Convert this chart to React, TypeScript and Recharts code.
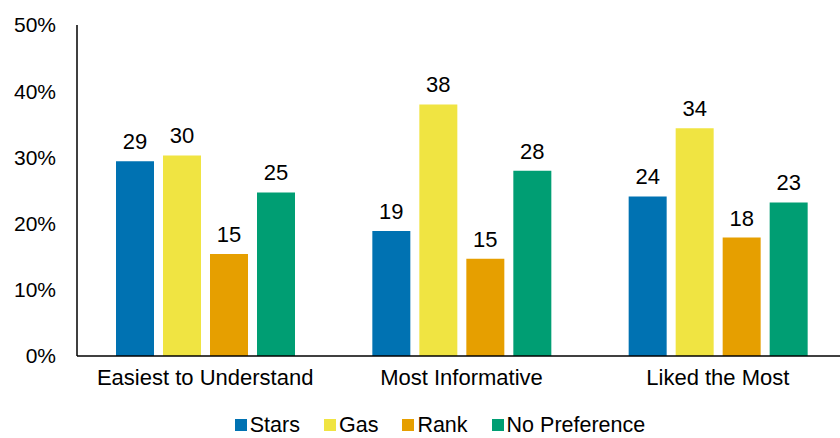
import React from 'react'
import { BarChart, Bar, XAxis, YAxis, Legend, LabelList } from 'recharts'

const categories = ['Easiest to Understand', 'Most Informative', 'Liked the Most']
const stars = [29.4, 18.9, 24.1]
const gas = [30.3, 38.0, 34.4]
const rank = [15.4, 14.7, 17.9]
const noPreference = [24.7, 28.0, 23.2]
const yTicks = [0, 10, 20, 30, 40, 50]

const series = [
    { key: 'stars', name: 'Stars', color: '#0072B2' },
    { key: 'gas', name: 'Gas', color: '#F0E442' },
    { key: 'rank', name: 'Rank', color: '#E69F00' },
    { key: 'noPreference', name: 'No Preference', color: '#009E73' },
]

const data = categories.map((name, i) => ({
    name,
    stars: stars[i],
    gas: gas[i],
    rank: rank[i],
    noPreference: noPreference[i],
}))

const font = "'Liberation Sans', Arial, sans-serif"

// legend kept in series order (recharts sorts by name otherwise)
const LegendBox = () => (
    <div style={{ display: 'flex', justifyContent: 'center', alignItems: 'center', height: 26, paddingLeft: 34, fontFamily: font, fontSize: 21.5, lineHeight: '25px', color: '#000' }}>
        {series.map((s, i) => (
            <div key={s.key} style={{ display: 'flex', alignItems: 'center', marginLeft: i === 0 ? 0 : 24 }}>
                <span style={{ display: 'inline-block', width: 12, height: 12, background: s.color, marginRight: 3 }} />
                <span>{s.name}</span>
            </div>
        ))}
    </div>
)

const App = () => {
    return (
        <div style={{ position: 'absolute', left: 0, top: 0, width: 840, height: 438, overflow: 'hidden', background: '#fff', fontFamily: font }}>
            <BarChart
                width={846}
                height={438}
                data={data}
                margin={{ top: 25, right: 0, left: 0, bottom: 0 }}
                barSize={38}
                barGap={9}
            >
                <XAxis
                    dataKey="name"
                    height={56}
                    tickSize={0}
                    tickMargin={13}
                    axisLine={{ stroke: '#000', strokeWidth: 1.5 }}
                    tick={{ fill: '#000', fontSize: 22, fontFamily: font }}
                />
                <YAxis
                    width={77}
                    domain={[0, 50]}
                    ticks={yTicks}
                    tickSize={0}
                    tickMargin={21}
                    tickFormatter={(v: number) => `${v}%`}
                    axisLine={{ stroke: '#000', strokeWidth: 1.5 }}
                    tick={{ fill: '#000', fontSize: 21, fontFamily: font }}
                />
                <Legend verticalAlign="bottom" height={26} wrapperStyle={{ bottom: 0 }} content={<LegendBox />} />
                {series.map((s) => (
                    <Bar key={s.key} dataKey={s.key} name={s.name} fill={s.color} isAnimationActive={false}>
                        <LabelList
                            dataKey={s.key}
                            position="top"
                            offset={12}
                            formatter={(v: number) => Math.round(v)}
                            style={{ fill: '#000', fontSize: 22, fontFamily: font }}
                        />
                    </Bar>
                ))}
            </BarChart>
        </div>
    )
}

export default App
